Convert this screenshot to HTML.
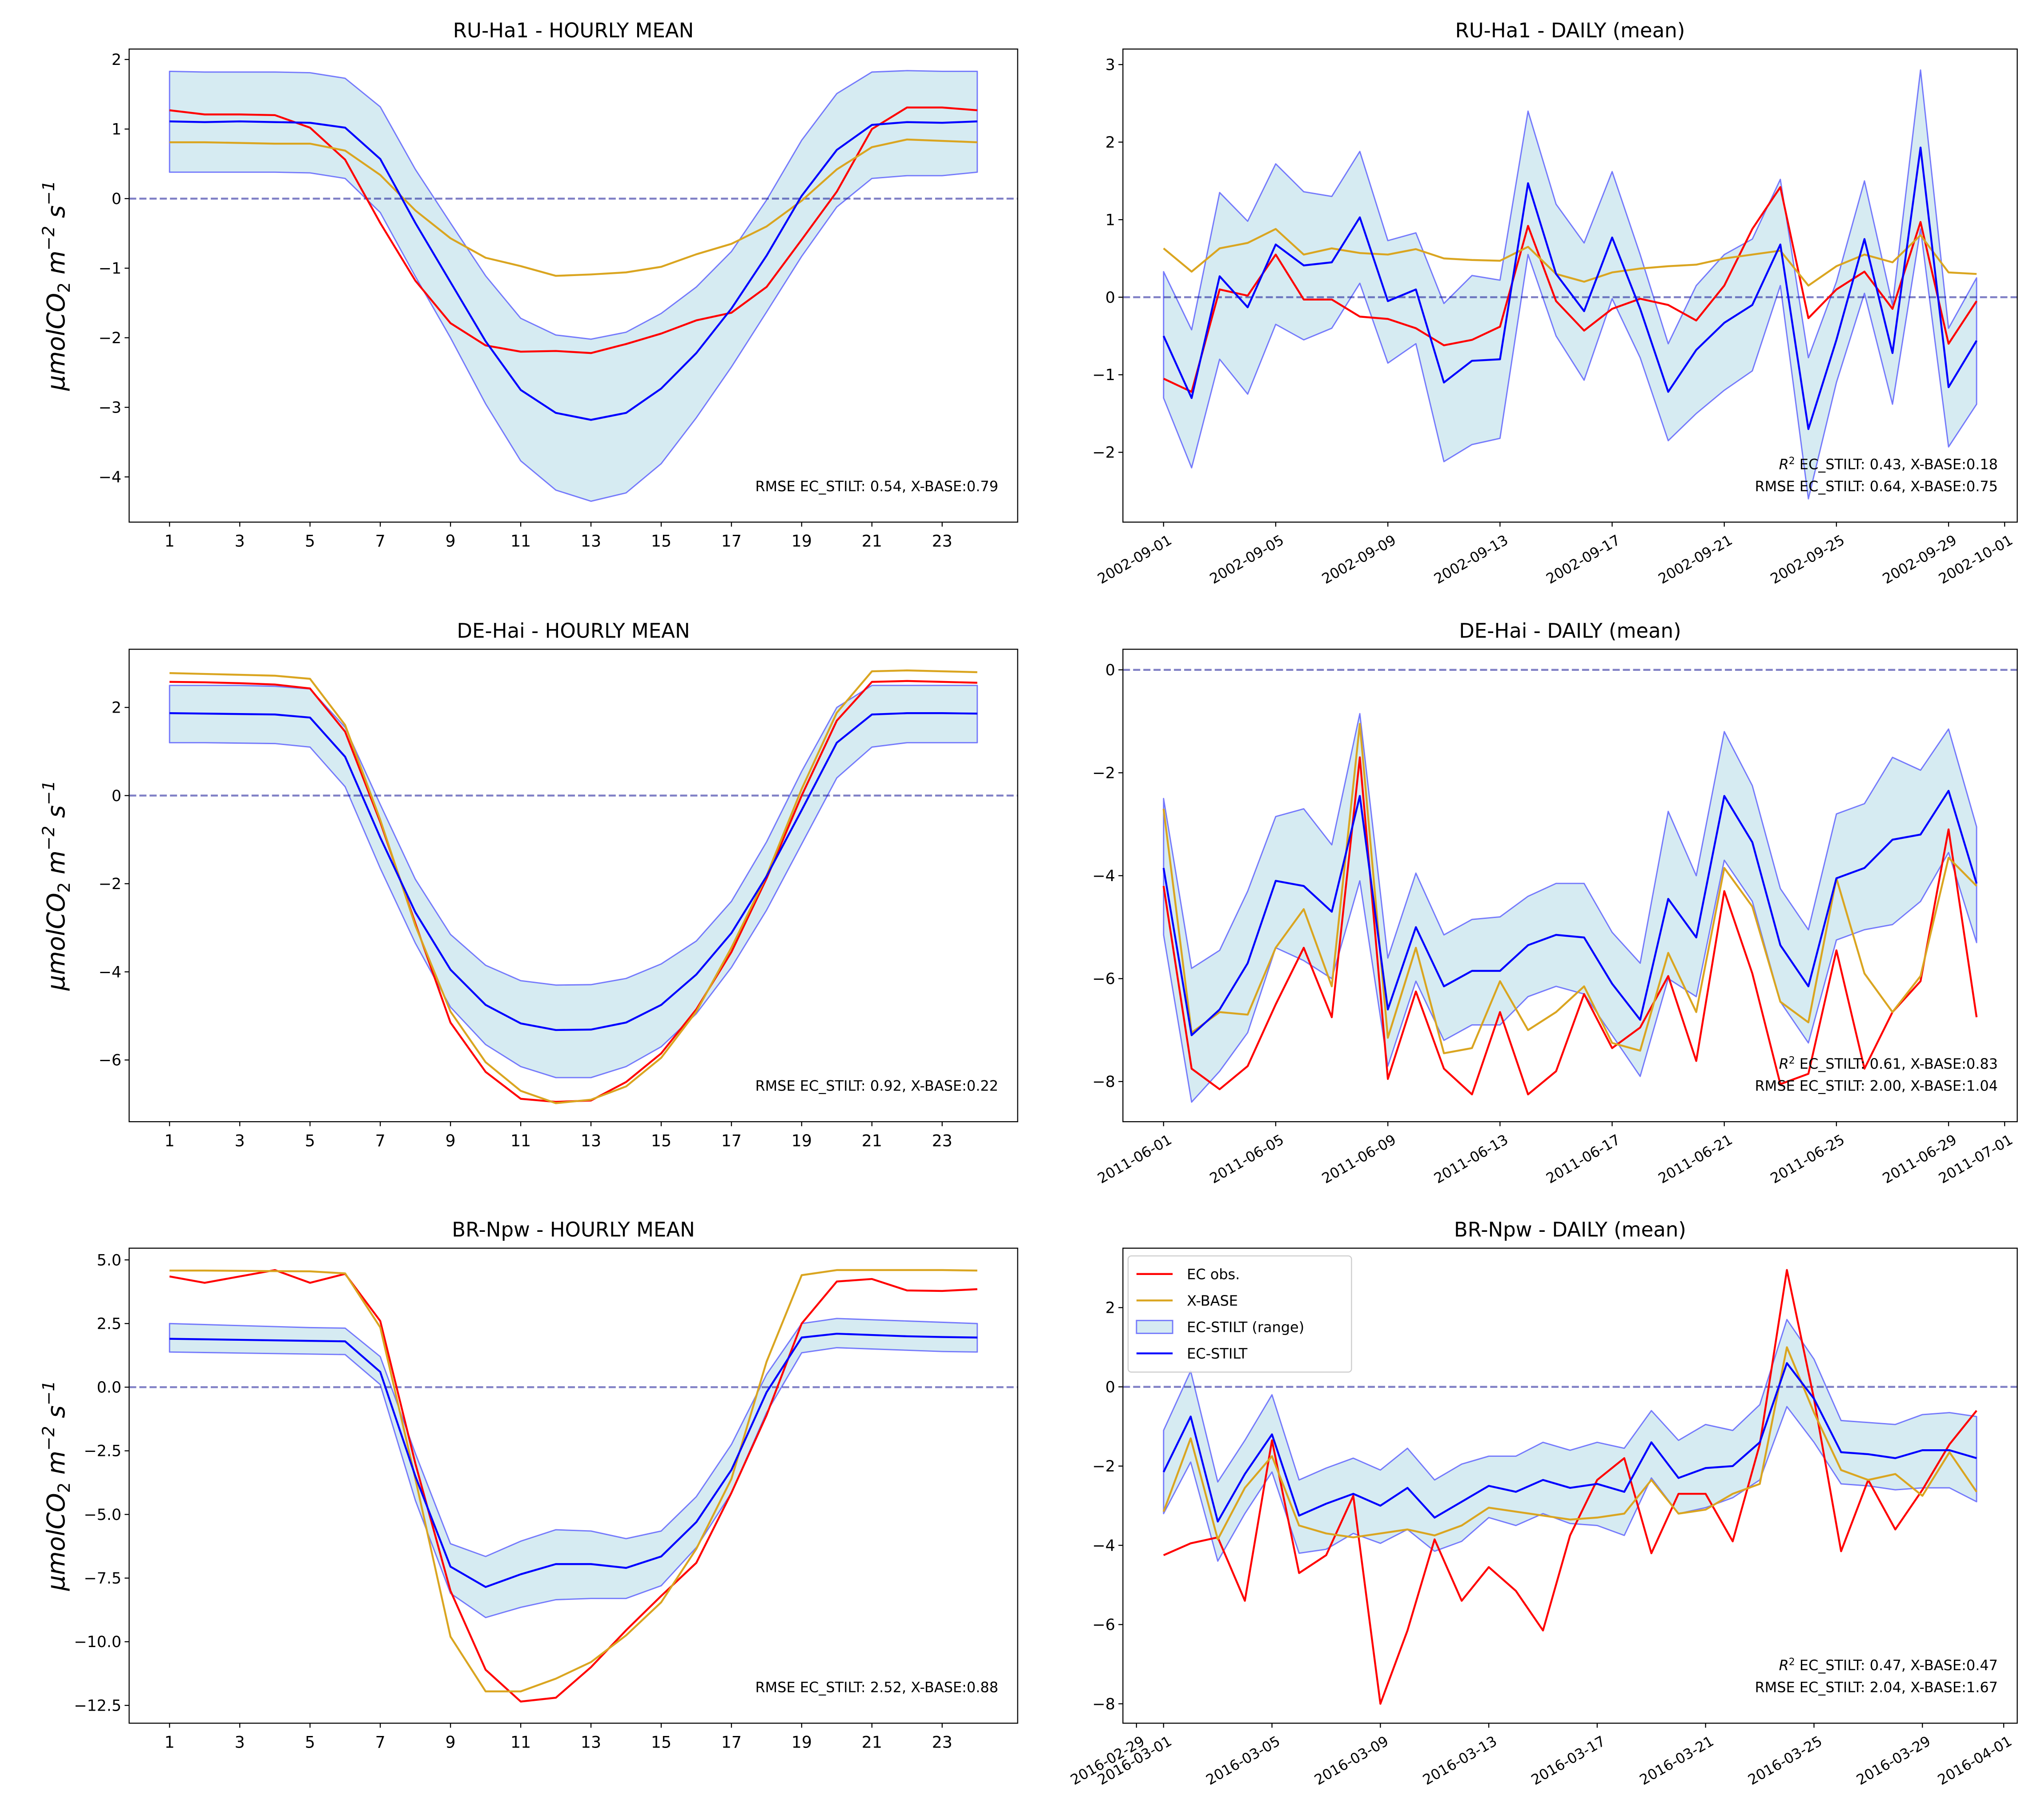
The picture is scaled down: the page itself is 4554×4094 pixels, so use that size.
<!DOCTYPE html>
<html><head><meta charset="utf-8"><style>
html,body{margin:0;padding:0;background:#fff;}
svg{display:block;}
text{font-family:"DejaVu Sans","Liberation Sans",sans-serif;}
</style></head>
<body>
<svg id="fig" xmlns="http://www.w3.org/2000/svg" width="4554" height="4094" viewBox="0 0 1568 1410" preserveAspectRatio="none"></svg>
<script>
// ---------- DATA ----------
const hours = [1,2,3,4,5,6,7,8,9,10,11,12,13,14,15,16,17,18,19,20,21,22,23,24];
const hourTicks = [1,3,5,7,9,11,13,15,17,19,21,23];

const ruHourBlue = [1.11,1.10,1.11,1.10,1.09,1.02,0.57,-0.35,-1.2,-2.05,-2.75,-3.08,-3.18,-3.08,-2.73,-2.22,-1.58,-0.82,0.04,0.70,1.06,1.10,1.09,1.11];
const ruHourRed = [1.27,1.21,1.21,1.20,1.02,0.56,-0.35,-1.18,-1.79,-2.11,-2.2,-2.19,-2.22,-2.09,-1.94,-1.75,-1.64,-1.27,-0.59,0.1,1.0,1.31,1.31,1.27];
const ruHourOrange = [0.81,0.81,0.80,0.79,0.79,0.69,0.34,-0.17,-0.57,-0.85,-0.97,-1.11,-1.09,-1.06,-0.98,-0.80,-0.65,-0.40,-0.03,0.42,0.74,0.85,0.83,0.81];
const ruHourUpper = [1.83,1.82,1.82,1.82,1.81,1.73,1.32,0.42,-0.35,-1.11,-1.72,-1.96,-2.02,-1.92,-1.65,-1.27,-0.76,-0.02,0.84,1.51,1.82,1.84,1.83,1.83];
const ruHourLower = [0.38,0.38,0.38,0.38,0.37,0.29,-0.2,-1.12,-2.0,-2.95,-3.77,-4.19,-4.35,-4.23,-3.81,-3.15,-2.42,-1.63,-0.83,-0.12,0.29,0.33,0.33,0.38];

const deHourBlue = [1.87,1.86,1.85,1.84,1.77,0.88,-0.95,-2.65,-3.95,-4.75,-5.17,-5.32,-5.31,-5.15,-4.75,-4.06,-3.12,-1.83,-0.33,1.2,1.84,1.87,1.87,1.86];
const deHourRed = [2.58,2.57,2.55,2.52,2.43,1.45,-0.6,-2.9,-5.15,-6.27,-6.88,-6.95,-6.92,-6.5,-5.85,-4.85,-3.55,-1.88,0.0,1.7,2.58,2.6,2.58,2.56];
const deHourOrange = [2.78,2.76,2.74,2.72,2.65,1.6,-0.55,-2.95,-4.9,-6.05,-6.7,-6.98,-6.9,-6.6,-5.95,-4.9,-3.45,-1.82,0.15,1.88,2.82,2.84,2.82,2.8];
const deHourUpper = [2.5,2.5,2.5,2.48,2.42,1.55,-0.2,-1.9,-3.15,-3.85,-4.2,-4.3,-4.29,-4.15,-3.82,-3.3,-2.4,-1.05,0.55,2.0,2.5,2.5,2.5,2.5];
const deHourLower = [1.2,1.2,1.19,1.18,1.1,0.2,-1.65,-3.35,-4.8,-5.65,-6.15,-6.4,-6.4,-6.15,-5.7,-4.95,-3.9,-2.6,-1.1,0.4,1.1,1.2,1.2,1.2];

const brHourBlue = [1.9,1.88,1.86,1.84,1.82,1.8,0.6,-3.5,-7.05,-7.85,-7.35,-6.95,-6.95,-7.1,-6.65,-5.3,-3.25,-0.2,1.95,2.1,2.05,2.0,1.97,1.95];
const brHourRed = [4.35,4.1,4.35,4.6,4.1,4.45,2.6,-3.0,-8.0,-11.1,-12.35,-12.2,-11.0,-9.55,-8.2,-6.9,-4.15,-1.1,2.5,4.15,4.25,3.8,3.78,3.85];
const brHourOrange = [4.58,4.58,4.57,4.56,4.55,4.47,2.35,-3.6,-9.8,-11.95,-11.95,-11.45,-10.8,-9.75,-8.45,-6.35,-3.6,1.0,4.4,4.6,4.6,4.6,4.6,4.58];
const brHourUpper = [2.5,2.46,2.42,2.38,2.34,2.32,1.2,-2.6,-6.15,-6.65,-6.05,-5.6,-5.65,-5.95,-5.65,-4.3,-2.25,0.5,2.5,2.7,2.65,2.6,2.55,2.5];
const brHourLower = [1.38,1.36,1.34,1.32,1.3,1.28,0.1,-4.45,-8.1,-9.05,-8.65,-8.35,-8.3,-8.3,-7.8,-6.3,-4.15,-1.0,1.35,1.55,1.5,1.45,1.4,1.38];

const ruDayBlue = [-0.5,-1.3,0.27,-0.13,0.68,0.41,0.45,1.03,-0.05,0.1,-1.1,-0.82,-0.8,1.47,0.3,-0.18,0.77,-0.15,-1.22,-0.68,-0.33,-0.1,0.68,-1.7,-0.55,0.75,-0.72,1.93,-1.16,-0.56];
const ruDayRed = [-1.05,-1.22,0.1,0.02,0.55,-0.03,-0.03,-0.25,-0.28,-0.4,-0.62,-0.55,-0.38,0.92,-0.05,-0.43,-0.15,-0.02,-0.1,-0.3,0.15,0.88,1.42,-0.27,0.1,0.33,-0.15,0.97,-0.6,-0.05];
const ruDayOrange = [0.63,0.33,0.63,0.7,0.88,0.55,0.63,0.57,0.55,0.62,0.5,0.48,0.47,0.65,0.3,0.2,0.32,0.37,0.4,0.42,0.5,0.55,0.6,0.15,0.4,0.55,0.45,0.8,0.32,0.3];
const ruDayUpper = [0.33,-0.42,1.35,0.98,1.72,1.36,1.3,1.88,0.73,0.83,-0.08,0.28,0.22,2.4,1.2,0.7,1.62,0.55,-0.6,0.15,0.55,0.75,1.52,-0.78,0.2,1.5,-0.1,2.93,-0.4,0.25];
const ruDayLower = [-1.3,-2.2,-0.8,-1.25,-0.35,-0.55,-0.4,0.18,-0.85,-0.6,-2.12,-1.9,-1.82,0.55,-0.5,-1.07,-0.02,-0.78,-1.85,-1.5,-1.2,-0.95,0.15,-2.6,-1.1,0.05,-1.38,0.88,-1.93,-1.38];

const deDayBlue = [-3.85,-7.1,-6.6,-5.7,-4.1,-4.2,-4.7,-2.45,-6.6,-5.0,-6.15,-5.85,-5.85,-5.35,-5.15,-5.2,-6.1,-6.8,-4.45,-5.2,-2.45,-3.35,-5.35,-6.15,-4.05,-3.85,-3.3,-3.2,-2.35,-4.15];
const deDayRed = [-4.2,-7.75,-8.15,-7.7,-6.5,-5.4,-6.75,-1.7,-7.95,-6.25,-7.75,-8.25,-6.65,-8.25,-7.8,-6.3,-7.35,-6.95,-5.95,-7.6,-4.3,-5.9,-8.05,-7.85,-5.45,-7.75,-6.65,-6.05,-3.1,-6.75];
const deDayOrange = [-2.7,-7.05,-6.65,-6.7,-5.4,-4.65,-6.15,-1.05,-7.15,-5.4,-7.45,-7.35,-6.05,-7.0,-6.65,-6.15,-7.25,-7.4,-5.5,-6.65,-3.85,-4.6,-6.45,-6.85,-4.05,-5.9,-6.65,-5.95,-3.65,-4.2];
const deDayUpper = [-2.5,-5.8,-5.45,-4.3,-2.85,-2.7,-3.4,-0.85,-5.6,-3.95,-5.15,-4.85,-4.8,-4.4,-4.15,-4.15,-5.1,-5.7,-2.75,-4.0,-1.2,-2.25,-4.25,-5.05,-2.8,-2.6,-1.7,-1.95,-1.15,-3.05];
const deDayLower = [-5.15,-8.4,-7.8,-7.05,-5.4,-5.65,-6.0,-4.1,-7.7,-6.05,-7.2,-6.9,-6.9,-6.35,-6.15,-6.3,-7.1,-7.9,-6.0,-6.35,-3.7,-4.5,-6.45,-7.25,-5.25,-5.05,-4.95,-4.5,-3.55,-5.3];

const brDayBlue = [-2.15,-0.75,-3.4,-2.2,-1.2,-3.25,-2.95,-2.7,-3.0,-2.55,-3.3,-2.9,-2.5,-2.65,-2.35,-2.55,-2.45,-2.65,-1.4,-2.3,-2.05,-2.0,-1.4,0.6,-0.3,-1.65,-1.7,-1.8,-1.6,-1.6,-1.8];
const brDayRed = [-4.25,-3.95,-3.8,-5.4,-1.35,-4.7,-4.25,-2.75,-8.0,-6.15,-3.85,-5.4,-4.55,-5.15,-6.15,-3.75,-2.35,-1.8,-4.2,-2.7,-2.7,-3.9,-1.45,2.95,-0.3,-4.15,-2.35,-3.6,-2.6,-1.45,-0.6];
const brDayOrange = [-3.15,-1.3,-3.85,-2.55,-1.75,-3.5,-3.7,-3.8,-3.7,-3.6,-3.75,-3.5,-3.05,-3.15,-3.25,-3.35,-3.3,-3.2,-2.35,-3.2,-3.1,-2.7,-2.45,1.0,-0.65,-2.1,-2.35,-2.2,-2.75,-1.65,-2.65];
const brDayUpper = [-1.1,0.4,-2.4,-1.35,-0.2,-2.35,-2.05,-1.8,-2.1,-1.55,-2.35,-1.95,-1.75,-1.75,-1.4,-1.6,-1.4,-1.55,-0.6,-1.35,-0.95,-1.1,-0.45,1.7,0.7,-0.85,-0.9,-0.95,-0.7,-0.65,-0.75];
const brDayLower = [-3.2,-1.9,-4.4,-3.2,-2.15,-4.2,-4.1,-3.7,-3.95,-3.6,-4.15,-3.9,-3.3,-3.5,-3.2,-3.45,-3.5,-3.75,-2.3,-3.2,-3.05,-2.8,-2.35,-0.5,-1.4,-2.45,-2.5,-2.6,-2.55,-2.55,-2.9];

const ruDateTickDays = [0,4,8,12,16,20,24,28,30];
const ruDateTickLabels = ["2002-09-01","2002-09-05","2002-09-09","2002-09-13","2002-09-17","2002-09-21","2002-09-25","2002-09-29","2002-10-01"];
const deDateTickDays = [0,4,8,12,16,20,24,28,30];
const deDateTickLabels = ["2011-06-01","2011-06-05","2011-06-09","2011-06-13","2011-06-17","2011-06-21","2011-06-25","2011-06-29","2011-07-01"];
const brDateTickDays = [-1,0,4,8,12,16,20,24,28,31];
const brDateTickLabels = ["2016-02-29","2016-03-01","2016-03-05","2016-03-09","2016-03-13","2016-03-17","2016-03-21","2016-03-25","2016-03-29","2016-04-01"];

const ruHourYTicks = [-4,-3,-2,-1,0,1,2];
const deHourYTicks = [-6,-4,-2,0,2];
const brHourYTicks = [-12.5,-10,-7.5,-5,-2.5,0,2.5,5];
const ruDayYTicks = [-2,-1,0,1,2,3];
const deDayYTicks = [-8,-6,-4,-2,0];
const brDayYTicks = [-8,-6,-4,-2,0,2];

// ---------- DRAWING ----------
const NS = "http://www.w3.org/2000/svg";
const svg = document.getElementById("fig");
function mk(tag, attrs, parent) {
  const e = document.createElementNS(NS, tag);
  for (const k in attrs) e.setAttribute(k, attrs[k]);
  (parent || svg).appendChild(e);
  return e;
}
function fmtNum(v, dec) {
  const s = Math.abs(v).toFixed(dec);
  return (v < 0 ? "\u2212" : "") + s;
}

function panel(cfg) {
  const g = mk("g", {});
  
  
  const {L, R, T, B, xmin, xmax, ymin, ymax} = cfg;
  const sx = v => L + (v - xmin) / (xmax - xmin) * (R - L);
  const sy = v => B - (v - ymin) / (ymax - ymin) * (B - T);
  const xs = cfg.xvals;
  let d = "";
  xs.forEach((x, i) => { d += (i ? "L" : "M") + sx(x).toFixed(2) + "," + sy(cfg.upper[i]).toFixed(2); });
  for (let i = xs.length - 1; i >= 0; i--) d += "L" + sx(xs[i]).toFixed(2) + "," + sy(cfg.lower[i]).toFixed(2);
  d += "Z";
  const band = mk("path", {d: d, fill: "#add8e6", "fill-opacity": "0.5", stroke: "#0000ff", "stroke-opacity": "0.5", "stroke-width": "1", "stroke-linejoin": "round"}, g);
  
  
  const zl = mk("line", {x1: L, x2: R, y1: sy(0), y2: sy(0), stroke: "#00008b", "stroke-opacity": "0.5", "stroke-width": "1.5", "stroke-dasharray": "5.5,2.4"}, g);
  
  
  const series = [
    {vals: cfg.red, col: "#ff0000", n: "ec-obs-line"},
    {vals: cfg.orange, col: "#daa520", n: "x-base-line"},
    {vals: cfg.blue, col: "#0000ff", n: "ec-stilt-line"}
  ];
  series.forEach(s => {
    const pts = xs.map((x, i) => sx(x).toFixed(2) + "," + sy(s.vals[i]).toFixed(2)).join(" ");
    const pl = mk("polyline", {points: pts, fill: "none", stroke: s.col, "stroke-width": "1.5", "stroke-linejoin": "round"}, g);
    
    
  });
  const fr = mk("rect", {x: L, y: T, width: R - L, height: B - T, fill: "none", stroke: "#000", "stroke-width": "0.8"}, g);
  
  
  cfg.yticks.forEach(v => {
    const y = sy(v);
    mk("line", {x1: L - 3.5, x2: L, y1: y, y2: y, stroke: "#000", "stroke-width": "0.8"}, g);
    const t = mk("text", {x: L - 6, y: y + 4.2, "text-anchor": "end", "font-size": "12", fill: "#000"}, g);
    t.textContent = fmtNum(v, cfg.ydec);
    
    
  });
  cfg.xticks.forEach((v, i) => {
    const x = sx(v);
    mk("line", {x1: x, x2: x, y1: B, y2: B + 3.5, stroke: "#000", "stroke-width": "0.8"}, g);
    let t;
    if (cfg.rotated) {
      t = mk("text", {x: x + 3, y: B + 9, "text-anchor": "end", "font-size": "11", fill: "#000", transform: "rotate(-30 " + (x + 3) + " " + (B + 9) + ")", "dominant-baseline": "hanging"}, g);
    } else {
      t = mk("text", {x: x, y: B + 19, "text-anchor": "middle", "font-size": "12.5", fill: "#000"}, g);
    }
    t.textContent = cfg.xlabels[i];
    
    
  });
  const tt = mk("text", {x: (L + R) / 2, y: T - 9, "text-anchor": "middle", "font-size": "15.5", fill: "#000"}, g);
  tt.textContent = cfg.title;
  
  
  cfg.notes.forEach((n, i) => {
    const a = mk("text", {x: R - 15, y: B - 24 - (cfg.notes.length - 1 - i) * 17, "text-anchor": "end", "font-size": "11", fill: "#000"}, g);
    if (n.startsWith("R2")) {
      const r = mk("tspan", {"font-style": "italic"}, a); r.textContent = "R";
      const sup = mk("tspan", {dy: "-4", "font-size": "7.5"}, a); sup.textContent = "2";
      const rest = mk("tspan", {dy: "4"}, a); rest.textContent = n.slice(2);
    } else a.textContent = n;
    
    
  });
  if (cfg.ylabel) {
    const cx = 50, cy = (T + B) / 2;
    const yl = mk("text", {x: cx, y: cy, "text-anchor": "middle", "font-size": "19", "font-style": "italic", fill: "#000", transform: "rotate(-90 " + cx + " " + cy + ")"}, g);
    yl.innerHTML = 'μmolCO<tspan dy="4" font-size="13" font-style="normal">2</tspan><tspan dy="-4"> m</tspan><tspan dy="-8" font-size="13">−2</tspan><tspan dy="8"> s</tspan><tspan dy="-8" font-size="13">−1</tspan>';
    
    
  }
  return {g, sx, sy};
}

const LL = 100, LR = 788, RL = 869.5, RR = 1562;
const rows = [[38, 404.5], [503, 869], [967, 1335]];
const hourLabels = hourTicks.map(String);
function dayDays(n) { return Array.from({length: n}, (_, i) => i); }

panel({name: "ru-ha1-hourly-panel", L: LL, R: LR, T: rows[0][0], B: rows[0][1], xmin: -0.15, xmax: 25.15, ymin: -4.65, ymax: 2.15,
  xvals: hours, blue: ruHourBlue, red: ruHourRed, orange: ruHourOrange, upper: ruHourUpper, lower: ruHourLower,
  yticks: ruHourYTicks, ydec: 0, xticks: hourTicks, xlabels: hourLabels, title: "RU-Ha1 - HOURLY MEAN",
  notes: ["RMSE EC_STILT: 0.54, X-BASE:0.79"], ylabel: true});
panel({name: "de-hai-hourly-panel", L: LL, R: LR, T: rows[1][0], B: rows[1][1], xmin: -0.15, xmax: 25.15, ymin: -7.4, ymax: 3.32,
  xvals: hours, blue: deHourBlue, red: deHourRed, orange: deHourOrange, upper: deHourUpper, lower: deHourLower,
  yticks: deHourYTicks, ydec: 0, xticks: hourTicks, xlabels: hourLabels, title: "DE-Hai - HOURLY MEAN",
  notes: ["RMSE EC_STILT: 0.92, X-BASE:0.22"], ylabel: true});
panel({name: "br-npw-hourly-panel", L: LL, R: LR, T: rows[2][0], B: rows[2][1], xmin: -0.15, xmax: 25.15, ymin: -13.2, ymax: 5.46,
  xvals: hours, blue: brHourBlue, red: brHourRed, orange: brHourOrange, upper: brHourUpper, lower: brHourLower,
  yticks: brHourYTicks, ydec: 1, xticks: hourTicks, xlabels: hourLabels, title: "BR-Npw - HOURLY MEAN",
  notes: ["RMSE EC_STILT: 2.52, X-BASE:0.88"], ylabel: true});

panel({name: "ru-ha1-daily-panel", L: RL, R: RR, T: rows[0][0], B: rows[0][1], xmin: -1.45, xmax: 30.45, ymin: -2.9, ymax: 3.2,
  xvals: dayDays(30), blue: ruDayBlue, red: ruDayRed, orange: ruDayOrange, upper: ruDayUpper, lower: ruDayLower,
  yticks: ruDayYTicks, ydec: 0, xticks: ruDateTickDays, xlabels: ruDateTickLabels, rotated: true, title: "RU-Ha1 - DAILY (mean)",
  notes: ["R2 EC_STILT: 0.43, X-BASE:0.18", "RMSE EC_STILT: 0.64, X-BASE:0.75"]});
panel({name: "de-hai-daily-panel", L: RL, R: RR, T: rows[1][0], B: rows[1][1], xmin: -1.45, xmax: 30.45, ymin: -8.78, ymax: 0.4,
  xvals: dayDays(30), blue: deDayBlue, red: deDayRed, orange: deDayOrange, upper: deDayUpper, lower: deDayLower,
  yticks: deDayYTicks, ydec: 0, xticks: deDateTickDays, xlabels: deDateTickLabels, rotated: true, title: "DE-Hai - DAILY (mean)",
  notes: ["R2 EC_STILT: 0.61, X-BASE:0.83", "RMSE EC_STILT: 2.00, X-BASE:1.04"]});
panel({name: "br-npw-daily-panel", L: RL, R: RR, T: rows[2][0], B: rows[2][1], xmin: -1.5, xmax: 31.5, ymin: -8.49, ymax: 3.5,
  xvals: dayDays(31), blue: brDayBlue, red: brDayRed, orange: brDayOrange, upper: brDayUpper, lower: brDayLower,
  yticks: brDayYTicks, ydec: 0, xticks: brDateTickDays, xlabels: brDateTickLabels, rotated: true, title: "BR-Npw - DAILY (mean)",
  notes: ["R2 EC_STILT: 0.47, X-BASE:0.47", "RMSE EC_STILT: 2.04, X-BASE:1.67"]});

const lg = mk("g", {});


mk("rect", {x: 873.5, y: 973, width: 173, height: 90, rx: 2.5, fill: "#fff", "fill-opacity": "0.8", stroke: "#ccc", "stroke-width": "0.8"}, lg);
const legItems = [["EC obs.", "line", "#ff0000"], ["X-BASE", "line", "#daa520"], ["EC-STILT (range)", "patch", ""], ["EC-STILT", "line", "#0000ff"]];
legItems.forEach((it, i) => {
  const y = 987 + i * 20.5;
  if (it[1] === "line") mk("line", {x1: 880, x2: 908, y1: y, y2: y, stroke: it[2], "stroke-width": "1.5"}, lg);
  else mk("rect", {x: 880, y: y - 5, width: 28, height: 10, fill: "#add8e6", "fill-opacity": "0.5", stroke: "#0000ff", "stroke-opacity": "0.5", "stroke-width": "1"}, lg);
  const t = mk("text", {x: 919, y: y + 4, "font-size": "11", fill: "#000"}, lg);
  t.textContent = it[0];
  
  
});
</script>
</body></html>
